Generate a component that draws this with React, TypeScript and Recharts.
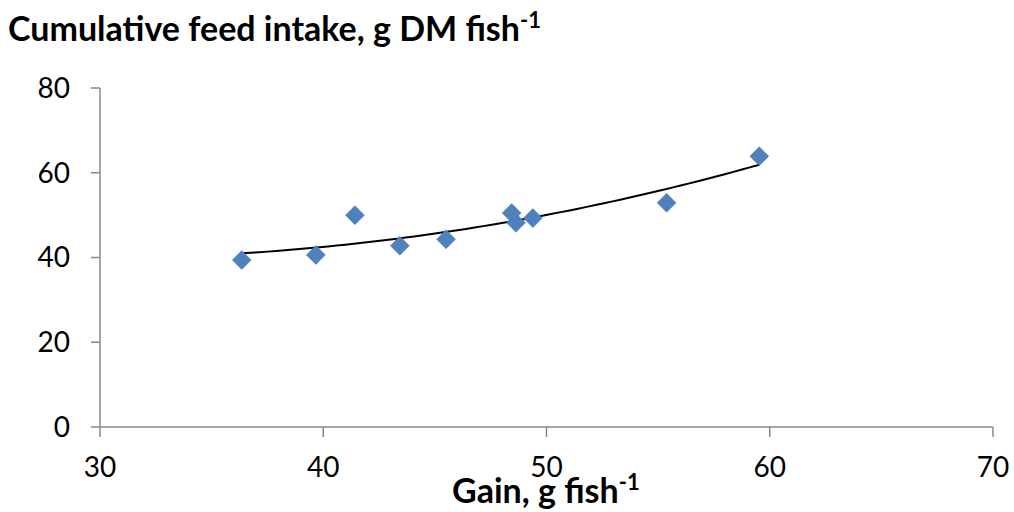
import { ComposedChart, Scatter, XAxis, YAxis } from "recharts";

const gain = [36.35, 39.67, 41.42, 43.43, 45.5, 48.44, 48.63, 49.39, 55.38, 59.53];
const intake = [39.4, 40.6, 50.0, 42.8, 44.3, 50.5, 48.2, 49.3, 52.9, 63.9];
const xTicks = [30, 40, 50, 60, 70];
const yTicks = [0, 20, 40, 60, 80];

const FONT = "Lato, 'Noto Sans', sans-serif";
const AXIS = "#888888";
const BLUE = "#4F81BD";

const points = gain.map((x, i) => ({ x, y: intake[i] }));

// second-order least-squares polynomial through the points
function polyFit2(xs: number[], ys: number[]) {
  const s = [0, 0, 0, 0, 0];
  const t = [0, 0, 0];
  xs.forEach((x, i) => {
    for (let k = 0; k < 5; k++) s[k] += Math.pow(x, k);
    for (let k = 0; k < 3; k++) t[k] += Math.pow(x, k) * ys[i];
  });
  const m = [
    [s[0], s[1], s[2], t[0]],
    [s[1], s[2], s[3], t[1]],
    [s[2], s[3], s[4], t[2]],
  ];
  for (let c = 0; c < 3; c++) {
    for (let r = c + 1; r < 3; r++) {
      const f = m[r][c] / m[c][c];
      for (let k = c; k < 4; k++) m[r][k] -= f * m[c][k];
    }
  }
  const coef = [0, 0, 0];
  for (let r = 2; r >= 0; r--) {
    let v = m[r][3];
    for (let k = r + 1; k < 3; k++) v -= m[r][k] * coef[k];
    coef[r] = v / m[r][r];
  }
  return coef;
}

const coef = polyFit2(gain, intake);
const xMin = Math.min(...gain);
const xMax = Math.max(...gain);
const trend = Array.from({ length: 61 }, (_, i) => {
  const x = xMin + ((xMax - xMin) * i) / 60;
  return { x, y: coef[0] + coef[1] * x + coef[2] * x * x };
});

const Diamond = (props: any) => {
  const { cx, cy } = props;
  const r = 9.5;
  return (
    <polygon
      points={`${cx},${cy - r} ${cx + r},${cy} ${cx},${cy + r} ${cx - r},${cy}`}
      fill={BLUE}
      stroke="#4A7EBB"
      strokeWidth={0.5}
    />
  );
};

const NoDot = () => <g />;

export default function App() {
  return (
    <div style={{ position: "absolute", left: 0, top: 0, width: 1014, height: 512, background: "#fff" }}>
      <ComposedChart
        width={1014}
        height={512}
        margin={{ top: 88, right: 21, bottom: 0, left: 0 }}
      >
        <XAxis
          type="number"
          dataKey="x"
          domain={[30, 70]}
          ticks={xTicks}
          allowDataOverflow
          height={85}
          stroke={AXIS}
          strokeWidth={1.5}
          tickSize={10}
          tickMargin={20}
          tick={{ fill: "#000", fontSize: 28, fontFamily: FONT }}
        />
        <YAxis
          type="number"
          dataKey="y"
          domain={[0, 80]}
          ticks={yTicks}
          width={100}
          stroke={AXIS}
          strokeWidth={1.5}
          tickSize={9}
          tickMargin={21}
          tick={{ fill: "#000", fontSize: 28, fontFamily: FONT }}
        />
        <Scatter
          data={trend}
          shape={NoDot}
          line={{ stroke: "#000", strokeWidth: 2 }}
          isAnimationActive={false}
        />
        <Scatter data={points} shape={Diamond} isAnimationActive={false} />
      </ComposedChart>
      <svg
        width={1014}
        height={512}
        style={{ position: "absolute", left: 0, top: 0, pointerEvents: "none" }}
      >
        <text x={8} y={41} fontFamily={FONT} fontWeight={700} fontSize={34} fill="#000">
          Cumulative feed intake, g DM fish
          <tspan fontSize={22} dy={-13}>-1</tspan>
        </text>
        <text x={452} y={503} fontFamily={FONT} fontWeight={700} fontSize={34} fill="#000">
          Gain, g fish
          <tspan fontSize={22} dy={-13}>-1</tspan>
        </text>
      </svg>
    </div>
  );
}
